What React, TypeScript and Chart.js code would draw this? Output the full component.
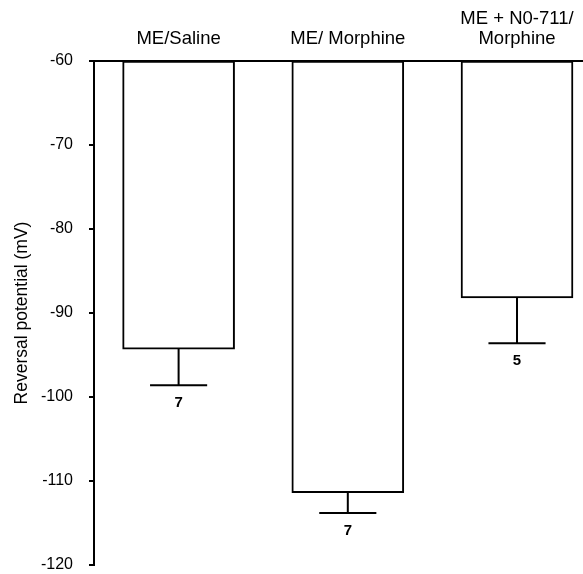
import React, { useEffect, useRef } from "react";
import { Chart, registerables } from "chart.js";

Chart.register(...registerables);

const categories: string[][] = [["ME/Saline"], ["ME/ Morphine"], ["ME + N0-711/", "Morphine"]];
const categoryPositions = [1, 2, 3];
const baselineValue = -60;
const means = [-94.3, -111.4, -88.2];
const sems = [4.3, 2.4, 5.4];
const nValues = ["7", "7", "5"];
const yMin = -120;
const yMax = -60;
const yStep = 10;
const yTitle = "Reversal potential (mV)";

const FONT = "'Liberation Sans', Arial, Helvetica, sans-serif";

const errorBarPlugin = {
  id: "errorBars",
  afterDatasetsDraw(chart: any) {
    const ctx = chart.ctx;
    const meta = chart.getDatasetMeta(0);
    const yScale = chart.scales.y;
    ctx.save();
    ctx.strokeStyle = "#000";
    ctx.fillStyle = "#000";
    ctx.lineWidth = 2;
    meta.data.forEach((bar: any, i: number) => {
      const x = bar.x;
      const yTop = yScale.getPixelForValue(means[i]);
      const yLow = yScale.getPixelForValue(means[i] - sems[i]);
      const half = bar.width * 0.255;
      ctx.beginPath();
      ctx.moveTo(x, yTop);
      ctx.lineTo(x, yLow);
      ctx.moveTo(x - half, yLow);
      ctx.lineTo(x + half, yLow);
      ctx.stroke();
      ctx.font = `bold 15px ${FONT}`;
      ctx.textAlign = "center";
      ctx.textBaseline = "middle";
      ctx.fillText(nValues[i], x, yLow + 18);
    });
    ctx.restore();
  },
};

export default function App() {
  const ref = useRef<HTMLCanvasElement | null>(null);
  useEffect(() => {
    if (!ref.current) return;
    const chart = new Chart(ref.current, {
      type: "bar",
      data: {
        datasets: [
          {
            data: categoryPositions.map((x, i) => ({ x, y: [baselineValue, means[i]] })) as any,
            backgroundColor: "#fff",
            borderColor: "#000",
            borderWidth: 2,
            borderSkipped: false,
            barThickness: 112,
          },
        ],
      },
      options: {
        animation: false,
        responsive: false,
        devicePixelRatio: 1,
        layout: { padding: { top: 0, right: 0, bottom: 9, left: 0 } },
        plugins: { legend: { display: false }, tooltip: { enabled: false } },
        scales: {
          x: {
            type: "linear",
            position: "top",
            offset: false,
            min: 0.5,
            max: 3.39,
            grid: { display: false, drawTicks: false, offset: false },
            border: { display: true, color: "#000", width: 2 },
            afterBuildTicks(scale: any) {
              scale.ticks = categoryPositions.map((v) => ({ value: v }));
            },
            afterFit(scale: any) {
              scale.height = 61;
              scale.paddingLeft = 0;
              scale.paddingRight = 0;
            },
            ticks: {
              color: "#000",
              padding: 12,
              maxRotation: 0,
              autoSkip: false,
              font: { family: FONT, size: 18.5, lineHeight: 1.08 },
              callback: (value: any) => {
                const idx = categoryPositions.indexOf(Number(value));
                return idx >= 0 ? categories[idx] : "";
              },
            },
          },
          y: {
            min: yMin,
            max: yMax,
            grid: {
              drawOnChartArea: false,
              drawTicks: true,
              tickLength: 5,
              color: "#000",
              lineWidth: 2,
            },
            border: { display: true, color: "#000", width: 2 },
            afterFit(scale: any) {
              scale.width = 94;
              scale.paddingTop = 0;
              scale.paddingBottom = 0;
            },
            ticks: {
              stepSize: yStep,
              color: "#000",
              padding: 16,
              font: { family: FONT, size: 16 },
            },
            title: {
              display: true,
              text: yTitle,
              color: "#000",
              padding: { top: 12, bottom: 0 },
              font: { family: FONT, size: 17.5 },
            },
          },
        },
      },
      plugins: [errorBarPlugin],
    });
    return () => chart.destroy();
  }, []);
  return (
    <div style={{ position: "fixed", left: 0, top: 0, width: 583, height: 574, background: "#fff" }}>
      <canvas ref={ref} width={583} height={574} />
    </div>
  );
}
